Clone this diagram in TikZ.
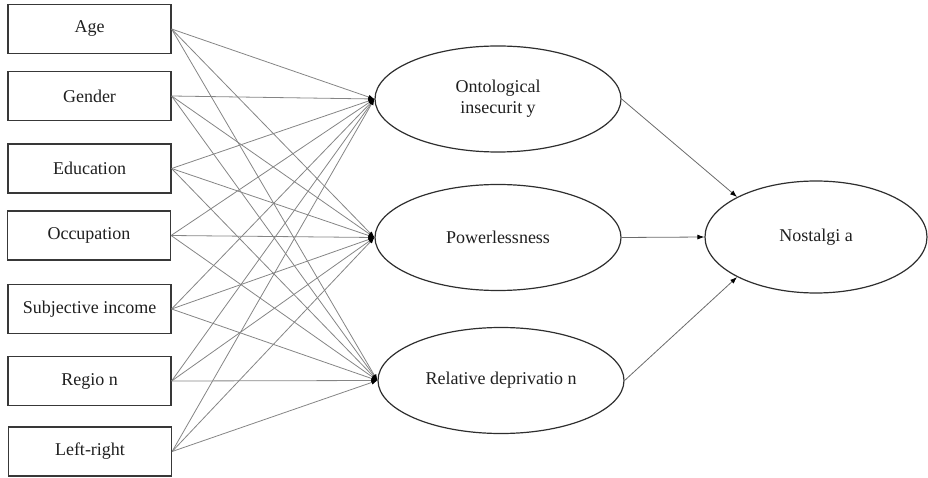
\documentclass[tikz,border=0pt]{standalone}
\usepackage{fontspec}
\setmainfont{Liberation Serif}
\usetikzlibrary{shapes.geometric,arrows.meta}
\begin{document}
\begin{tikzpicture}[x=1pt,y=-1pt,
  font=\fontsize{18}{21}\selectfont,
  varbox/.style={draw=black!78,line width=1.2pt,minimum width=163pt,minimum height=49pt,inner sep=0pt,text=black!88},
  latent/.style={ellipse,draw=black!82,line width=1.2pt,minimum width=246pt,minimum height=106pt,inner sep=0pt,align=center,text=black!88},
  path1/.style={draw=black!48,line width=0.8pt,-{Latex[length=6pt,width=4.5pt,color=black]}},
  path2/.style={draw=black!58,line width=0.8pt,-{Latex[length=7pt,width=5pt,color=black]}}]
\useasboundingbox (0,0) rectangle (928,478);
% observed covariates
\node[varbox] (age) at (89.5,29) {Age};
\node[varbox] (gen) at (89.5,96) {Gender};
\node[varbox] (edu) at (89.5,168.5) {Education};
\node[varbox] (occ) at (89,235.5) {Occupation};
\node[varbox] (inc) at (89.5,309) {Subjective income};
\node[varbox] (reg) at (89.5,381) {Regio n};
\node[varbox] (lr) at (90,451.5) {Left-right};
% latent variables
\node[latent] (ont) at (498,99) {Ontological\\insecurit y};
\node[latent] (pow) at (498,237.5) {Powerlessness};
\node[latent] (rel) at (501,380.5) {Relative deprivatio n};
\node[latent,minimum width=222pt,minimum height=112pt] (nos) at (816,237) {Nostalgi a};
% covariate paths
\foreach \s in {age,gen,edu,occ,inc,reg,lr}
  \foreach \t in {ont,pow,rel}
    \draw[path1] (\s.east) -- (\t.west);
% paths to nostalgia
\draw[path2] (ont.east) -- (nos.north west);
\draw[path2] (pow.east) -- (nos.west);
\draw[path2] (rel.east) -- (nos.south west);
\end{tikzpicture}
\end{document}
